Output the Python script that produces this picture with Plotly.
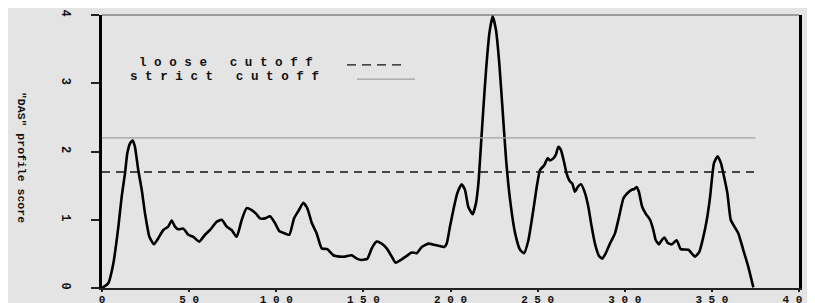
import plotly.graph_objects as go

# ---- data ----
positions = [0, 3.6, 6.5, 9.4, 11.3, 13.2, 14.5, 16.1, 17.6, 18.9, 20.8, 22.8, 24.7, 27.2, 29.8,
             32.3, 35.2, 38, 40, 41.9, 43.8, 46.7, 49.5, 52.4, 55.8, 59.1, 62, 65.8, 68.7, 71.6,
             74.4, 77.3, 80.2, 83, 85.9, 88.4, 90.7, 93.5, 96.4, 99.3, 101.8, 104, 107.5, 110.2,
             113.2, 115.5, 117.8, 120.3, 123.2, 126.1, 129.3, 132.7, 136.6, 139.5, 143.3, 146.2,
             149, 152.3, 154.8, 157.6, 160.5, 163.4, 166.3, 168.5, 172, 174.9, 177.7, 180.6,
             183.5, 187.3, 191.1, 193, 196.3, 197.8, 199.7, 201.6, 203.9, 206.4, 208.3, 210.2,
             212.7, 214.6, 216, 217.3, 218.8, 220.4, 222.3, 224.2, 226.1, 228, 229.9, 231.9,
             234.2, 237.1, 239.9, 242.2, 244.7, 247.5, 249.8, 251.4, 253.8, 255.8, 257.1, 259,
             260.4, 261.9, 263.4, 265.3, 266.6, 268.6, 269.9, 271.4, 273, 274.9, 277.2, 279.1,
             281, 282.9, 285.2, 287.1, 289.1, 291.5, 294.4, 296.7, 299.2, 301.1, 304, 305.5,
             306.8, 308.1, 310, 312, 314.5, 316.4, 317.8, 319.7, 321.2, 322.8, 324.7, 327,
             329.8, 332.1, 336.5, 340.3, 342.8, 345.1, 347.1, 349, 351.2, 353.3, 355.2, 357,
             358.9, 360.8, 362.7, 365.2, 368, 370.9, 373.8]
das_score = [0, 0.07, 0.36, 0.90, 1.34, 1.68, 1.97, 2.12, 2.16, 2.07, 1.73, 1.44, 1.09, 0.75, 0.64,
             0.73, 0.85, 0.90, 0.99, 0.90, 0.86, 0.87, 0.78, 0.75, 0.68, 0.78, 0.85, 0.97, 1.00, 0.90,
             0.85, 0.75, 1.00, 1.17, 1.14, 1.09, 1.02, 1.02, 1.05, 0.95, 0.83, 0.81, 0.78, 1.02,
             1.15, 1.25, 1.17, 0.96, 0.80, 0.58, 0.57, 0.48, 0.46, 0.46, 0.48, 0.43,
             0.41, 0.43, 0.58, 0.68, 0.65, 0.58, 0.46, 0.37, 0.42, 0.47, 0.52, 0.51,
             0.60, 0.65, 0.63, 0.62, 0.60, 0.65, 0.90, 1.14, 1.39, 1.52, 1.44, 1.19,
             1.08, 1.24, 1.53, 2.02, 2.61, 3.19, 3.73, 3.98, 3.78, 3.29, 2.61, 1.88,
             1.29, 0.80, 0.56, 0.51, 0.70, 1.14, 1.53, 1.73, 1.80, 1.90, 1.87, 1.90,
             1.95, 2.07, 2.02, 1.83, 1.68, 1.56, 1.53, 1.41, 1.48, 1.52, 1.39, 1.19,
             0.90, 0.65, 0.47, 0.43, 0.51, 0.65, 0.80, 1.04, 1.31, 1.38, 1.44, 1.45,
             1.48, 1.41, 1.19, 1.09, 1.00, 0.85, 0.70, 0.64, 0.70, 0.74, 0.66, 0.64,
             0.70, 0.57, 0.56, 0.46, 0.53, 0.75, 1.00, 1.34, 1.83, 1.93, 1.83, 1.63,
             1.39, 1.00, 0.91, 0.80, 0.56, 0.31, 0.01]

cutoff_span = [0, 375]
loose_cutoff = 1.7
strict_cutoff = 2.2

x_tick_vals = [0, 50, 100, 150, 200, 250, 300, 350, 400]
y_tick_vals = [0, 1, 2, 3, 4]
y_title = '"DAS" profile score'
legend_labels = ["loose cutoff", "strict cutoff"]


def spaced(s):
    return " ".join(list(s))


FONT = "Liberation Mono, DejaVu Sans Mono, monospace"
TXT = "#111111"
BG = "#e4e4e4"

fig = go.Figure()

# cutoff lines drawn on the tick-mark axis (x2), which matches x
fig.add_trace(go.Scatter(x=cutoff_span, y=[strict_cutoff] * 2, mode="lines", xaxis="x2",
                         line=dict(color="#a0a0a0", width=1.3), hoverinfo="skip"))
fig.add_trace(go.Scatter(x=cutoff_span, y=[loose_cutoff] * 2, mode="lines", xaxis="x2",
                         line=dict(color="#111111", width=1.3, dash="8px,6px"), hoverinfo="skip"))
fig.add_trace(go.Scatter(x=positions, y=das_score, mode="lines",
                         line=dict(color="#000000", width=2.6, shape="spline", smoothing=0.5)))

# top frame line (thin grey)
fig.add_shape(type="line", xref="paper", yref="paper", x0=0, x1=1, y0=1, y1=1,
              line=dict(color="#555555", width=1))

# legend text + samples
fig.add_annotation(x=20.1, y=3.30, xref="x", yref="y", text=spaced(legend_labels[0]),
                   showarrow=False, xanchor="left", yanchor="middle",
                   font=dict(family=FONT, size=12.6, color=TXT, weight="bold"))
fig.add_annotation(x=14.9, y=3.09, xref="x", yref="y", text=spaced(legend_labels[1]),
                   showarrow=False, xanchor="left", yanchor="middle",
                   font=dict(family=FONT, size=12.6, color=TXT, weight="bold"))
fig.add_shape(type="line", xref="x", yref="y", x0=140.6, x1=174, y0=3.27, y1=3.27,
              line=dict(color="#111111", width=1.3, dash="9px,6px"))
fig.add_shape(type="line", xref="x", yref="y", x0=146.3, x1=179.6, y0=3.06, y1=3.06,
              line=dict(color="#a0a0a0", width=1.3))

# y-axis title (reads top to bottom)
fig.add_annotation(x=-0.1162, y=0.48, xref="paper", yref="paper", text=y_title,
                   textangle=90, showarrow=False, xanchor="center", yanchor="middle",
                   font=dict(family=FONT, size=11.5, color=TXT, weight="bold"))

fig.update_layout(
    width=815, height=303,
    margin=dict(l=94, r=24, t=7, b=23, autoexpand=False),
    paper_bgcolor=BG, plot_bgcolor=BG,
    showlegend=False,
    font=dict(family=FONT, color=TXT),
    xaxis=dict(range=[0, 400], tickvals=x_tick_vals,
               ticktext=[spaced(str(v)) for v in x_tick_vals],
               showgrid=False, zeroline=False, showline=True, linecolor="#222222",
               linewidth=1.5, mirror=False, ticks="", ticklabelstandoff=0, automargin=False,
               ticklabeloverflow="allow",
               tickfont=dict(family=FONT, size=11, color=TXT, weight="bold")),
    xaxis2=dict(range=[0, 400], overlaying="x", side="bottom", tickvals=x_tick_vals,
                showticklabels=False, showgrid=False, zeroline=False, showline=False,
                ticks="outside", ticklen=3, tickwidth=2, tickcolor="#222222",
                automargin=False),
    yaxis=dict(range=[0, 4], tickvals=y_tick_vals,
               showgrid=False, zeroline=False, showline=True, linecolor="#000000",
               linewidth=2.5, mirror=True, ticks="outside", ticklen=8, tickwidth=1.5,
               tickcolor="#222222", tickangle=90, ticklabelstandoff=15, automargin=False,
               ticklabeloverflow="allow",
               tickfont=dict(family=FONT, size=12, color=TXT, weight="bold")),
)

fig.write_html("out.html")
